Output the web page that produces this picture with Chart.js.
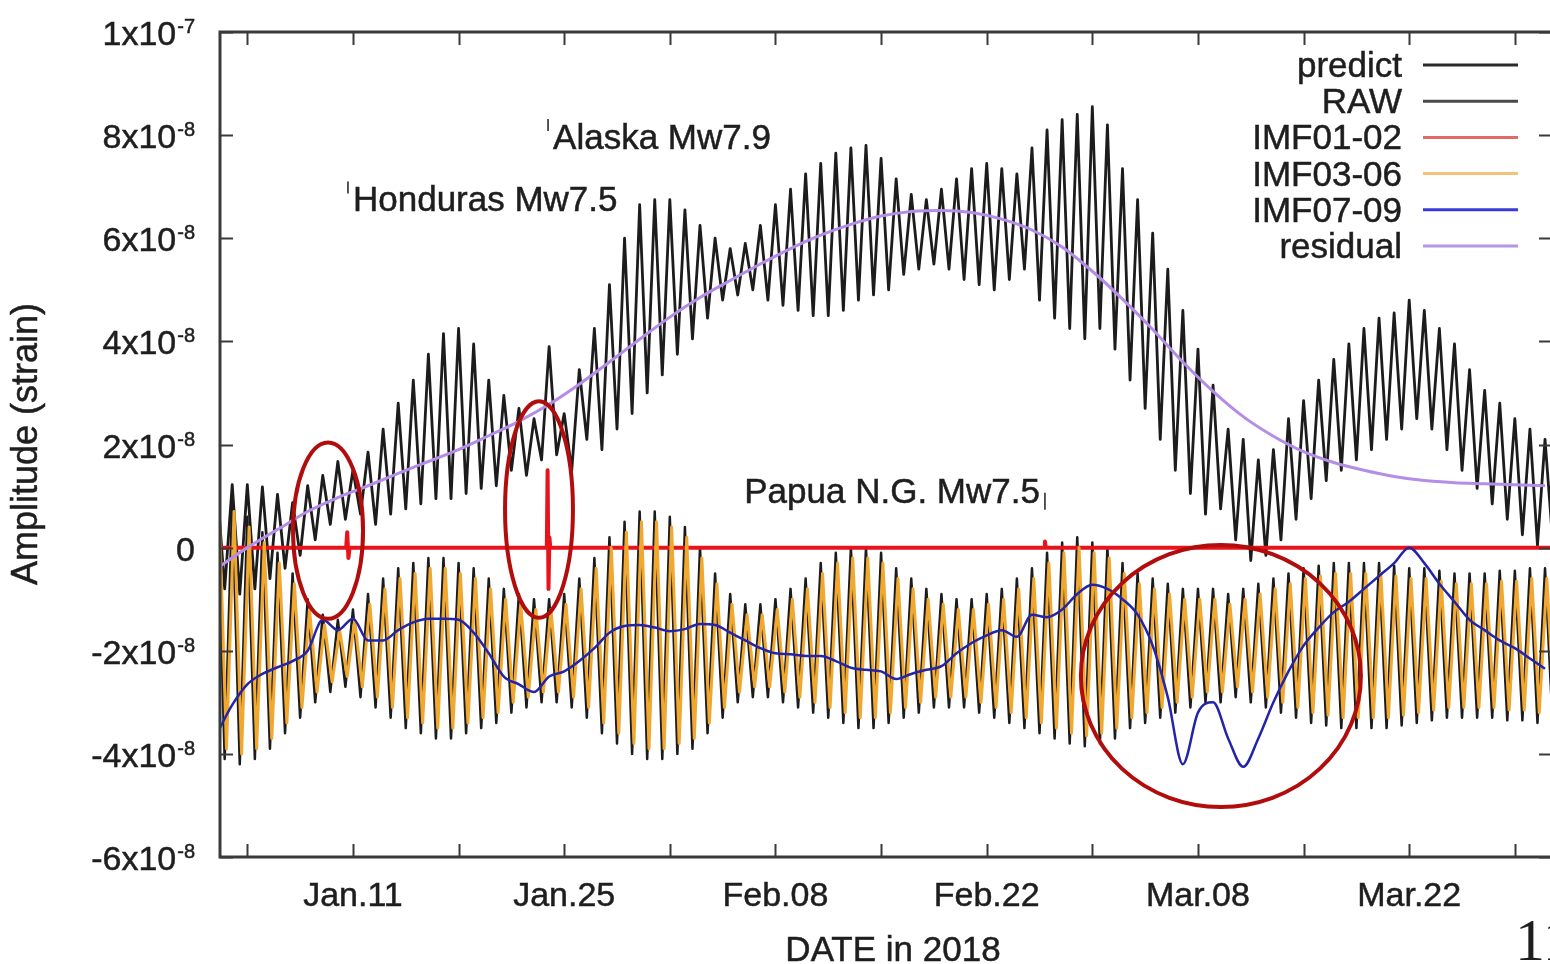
<!DOCTYPE html>
<html>
<head>
<meta charset="utf-8">
<script src="https://cdn.jsdelivr.net/npm/chart.js@4.4.1/dist/chart.umd.min.js"></script>
<style>
  html, body { margin: 0; padding: 0; background: #fff; overflow: hidden; }
  #wrap { position: relative; width: 1550px; height: 964px; }
</style>
</head>
<body>
<div id="wrap"><canvas id="strainChart" width="1550" height="964"></canvas></div>
<script>
// Valores en unidades de 1e-8 (strain), tiempo en dia del año 2018
const firstDay = 2;

// RAW: maximo diario (dia d) y minimo (dia d + 0.5), desde el dia 2 hasta el 90
const rawPeaks = [
  1.18, 1.22, 1.22, 1.18, 1.03, 0.87, 1.2, 1.4, 1.67, 1.5,
  1.85, 2.3, 2.8, 3.25, 3.75, 4.15, 4.25, 3.95, 3.25, 2.95,
  2.7, 2.5, 3.9, 2.6, 3.45, 4.25, 5.1, 6.0, 6.65, 6.75,
  6.75, 6.55, 6.25, 6.0, 5.8, 5.9, 6.25, 6.65, 6.95, 7.25,
  7.45, 7.65, 7.75, 7.8, 7.55, 7.15, 6.85, 6.75, 6.95, 7.15,
  7.35, 7.45, 7.35, 7.25, 7.75, 8.1, 8.3, 8.4, 8.55, 8.2,
  7.35, 6.75, 6.1, 5.4, 4.6, 3.85, 3.15, 2.3, 2.1, 1.7,
  1.9, 2.5, 2.85, 3.25, 3.65, 3.95, 4.25, 4.45, 4.55, 4.8,
  4.6, 4.25, 3.95, 3.45, 3.05, 2.8, 2.5, 2.3, 2.1
];
const rawTroughs = [
  -0.8, -0.9, -0.8, -0.6, -0.4, -0.15, 0.15, 0.45, 0.55, 0.65,
  0.45, 0.65, 0.75, 0.85, 0.95, 0.95, 1.05, 1.15, 1.2, 1.5,
  1.4, 1.7, 1.8, 1.5, 2.1, 1.9, 2.3, 2.6, 3.0, 3.35,
  3.75, 4.05, 4.45, 4.8, 4.9, 5.0, 4.8, 4.7, 4.6, 4.5,
  4.5, 4.6, 4.8, 4.9, 5.0, 5.3, 5.4, 5.5, 5.4, 5.2,
  5.1, 5.0, 5.2, 5.4, 4.8, 4.45, 4.25, 4.05, 4.25, 3.85,
  3.25, 2.7, 2.1, 1.5, 1.05, 0.65, 0.75, 0.15, -0.25, -0.15,
  0.15, 0.55, 0.95, 1.3, 1.5, 1.7, 1.9, 2.1, 2.3, 2.5,
  2.3, 1.9, 1.5, 1.15, 0.85, 0.55, 0.25, 0.05, 0.15
];

// predict (marea teorica)
const predictTops = [
  1.1, 0.9, 0.6, 0.3, -0.1, -0.5, -1.0, -1.3, -1.4, -1.2,
  -0.9, -0.6, -0.4, -0.3, -0.2, -0.2, -0.3, -0.4, -0.6, -0.8,
  -0.9, -1.0, -1.0, -0.9, -0.6, -0.2, 0.2, 0.5, 0.7, 0.7,
  0.6, 0.4, 0.0, -0.5, -0.9, -1.1, -1.1, -1.0, -0.8, -0.6,
  -0.3, -0.1, 0.0, 0.0, -0.1, -0.4, -0.6, -0.8, -0.9, -1.0,
  -1.0, -0.9, -0.8, -0.6, -0.4, -0.1, 0.1, 0.2, 0.1, 0.0,
  -0.3, -0.5, -0.6, -0.7, -0.8, -0.8, -0.8, -0.9, -0.8, -0.7,
  -0.6, -0.5, -0.4, -0.35, -0.3, -0.3, -0.3, -0.3, -0.35, -0.4,
  -0.4, -0.45, -0.5, -0.5, -0.5, -0.45, -0.45, -0.4, -0.4
];
const predictBottoms = [
  -4.1, -4.2, -4.1, -3.9, -3.6, -3.3, -3.0, -2.8, -2.7, -2.9,
  -3.1, -3.3, -3.5, -3.6, -3.7, -3.7, -3.6, -3.5, -3.4, -3.2,
  -3.1, -3.0, -3.0, -3.1, -3.3, -3.6, -3.8, -4.0, -4.1, -4.1,
  -4.0, -3.9, -3.6, -3.3, -3.0, -2.9, -2.9, -3.0, -3.1, -3.2,
  -3.3, -3.4, -3.5, -3.5, -3.4, -3.3, -3.2, -3.1, -3.1, -3.1,
  -3.2, -3.3, -3.4, -3.5, -3.6, -3.7, -3.8, -3.85, -3.8, -3.7,
  -3.5, -3.4, -3.3, -3.2, -3.1, -3.0, -3.0, -2.9, -3.0, -3.1,
  -3.2, -3.3, -3.4, -3.45, -3.5, -3.5, -3.5, -3.5, -3.45, -3.4,
  -3.35, -3.3, -3.3, -3.3, -3.3, -3.35, -3.35, -3.4, -3.4
];

// IMF03-06
const imf36Tops = [
  0.9, 0.7, 0.4, 0.1, -0.3, -0.7, -1.2, -1.5, -1.6, -1.4,
  -1.1, -0.8, -0.6, -0.5, -0.4, -0.4, -0.5, -0.6, -0.8, -1.0,
  -1.1, -1.2, -1.2, -1.1, -0.8, -0.4, 0.0, 0.3, 0.5, 0.5,
  0.4, 0.2, -0.2, -0.7, -1.1, -1.3, -1.3, -1.2, -1.0, -0.8,
  -0.5, -0.3, -0.2, -0.2, -0.3, -0.6, -0.8, -1.0, -1.1, -1.2,
  -1.2, -1.1, -1.0, -0.8, -0.6, -0.3, -0.1, 0.0, -0.1, -0.2,
  -0.5, -0.7, -0.8, -0.9, -1.0, -1.0, -1.0, -1.1, -1.0, -0.9,
  -0.8, -0.7, -0.6, -0.55, -0.5, -0.5, -0.5, -0.5, -0.55, -0.6,
  -0.6, -0.65, -0.7, -0.7, -0.7, -0.65, -0.65, -0.6, -0.6
];
const imf36Bottoms = [
  -3.9, -4.0, -3.9, -3.7, -3.4, -3.1, -2.8, -2.6, -2.5, -2.7,
  -2.9, -3.1, -3.3, -3.4, -3.5, -3.5, -3.4, -3.3, -3.2, -3.0,
  -2.9, -2.8, -2.8, -2.9, -3.1, -3.4, -3.6, -3.8, -3.9, -3.9,
  -3.8, -3.7, -3.4, -3.1, -2.8, -2.7, -2.7, -2.8, -2.9, -3.0,
  -3.1, -3.2, -3.3, -3.3, -3.2, -3.1, -3.0, -2.9, -2.9, -2.9,
  -3.0, -3.1, -3.2, -3.3, -3.4, -3.5, -3.6, -3.65, -3.6, -3.5,
  -3.3, -3.2, -3.1, -3.0, -2.9, -2.8, -2.8, -2.7, -2.8, -2.9,
  -3.0, -3.1, -3.2, -3.25, -3.3, -3.3, -3.3, -3.3, -3.25, -3.2,
  -3.15, -3.1, -3.1, -3.1, -3.1, -3.15, -3.15, -3.2, -3.2
];
const imf36Shift = 0.12;

// IMF07-09, un valor por dia
const imf79Values = [
  -3.6, -3.05, -2.65, -2.45, -2.32, -2.2, -2.0, -1.4, -1.6, -1.38,
  -1.8, -1.8, -1.6, -1.45, -1.38, -1.38, -1.4, -1.65, -2.05, -2.5,
  -2.65, -2.8, -2.5, -2.4, -2.2, -1.95, -1.65, -1.52, -1.5, -1.55,
  -1.62, -1.58, -1.48, -1.5, -1.65, -1.8, -1.95, -2.05, -2.07, -2.1,
  -2.1, -2.2, -2.33, -2.37, -2.4, -2.55, -2.45, -2.37, -2.3, -2.05,
  -1.85, -1.7, -1.6, -1.73, -1.3, -1.35, -1.2, -0.9, -0.72, -0.8,
  -1.0, -1.3, -1.9, -2.9, -4.2, -3.2, -3.0, -3.7, -4.25, -3.7,
  -3.0, -2.4, -1.9, -1.55, -1.25, -1.05, -0.8, -0.55, -0.3, 0.0,
  -0.3, -0.7, -1.05, -1.4, -1.6, -1.8, -1.95, -2.15, -2.35
];

// residual, cada 2 dias
const residualValues = [
  -0.4, 0.0, 0.35, 0.7, 0.97, 1.2, 1.44, 1.67, 1.9, 2.17,
  2.45, 2.78, 3.17, 3.6, 4.04, 4.47, 4.85, 5.18, 5.5, 5.8,
  6.06, 6.27, 6.43, 6.52, 6.54, 6.5, 6.37, 6.16, 5.83, 5.36,
  4.82, 4.23, 3.6, 3.03, 2.54, 2.16, 1.86, 1.65, 1.5, 1.38,
  1.3, 1.26, 1.24, 1.22, 1.2
];

// IMF01-02: casi cero, con picos en los sismos
const imf12Days = [2, 10.55, 10.62, 10.7, 10.78, 23.85, 23.9, 23.96, 24.02, 24.08, 56.8, 56.86, 56.92, 90.5];
const imf12Values = [0, 0, 0.3, -0.2, 0, 0, 1.5, -0.8, 0.2, 0, 0, 0.12, 0, 0];

// Ejes
const xMin = 2.19, xMax = 90.33;
const yMin = -6, yMax = 10;
const xTickDays = [4, 11, 18, 25, 32, 39, 46, 53, 60, 67, 74, 81, 88];
const xLabelDays = [11, 25, 39, 53, 67, 81];
const xLabels = ['Jan.11', 'Jan.25', 'Feb.08', 'Feb.22', 'Mar.08', 'Mar.22'];
const yTickValues = [10, 8, 6, 4, 2, 0, -2, -4, -6];
const yTickBases = ['1x10', '8x10', '6x10', '4x10', '2x10', '0', '-2x10', '-4x10', '-6x10'];
const yTickExps = ['-7', '-8', '-8', '-8', '-8', '', '-8', '-8', '-8'];

// Leyenda
const legendNames = ['predict', 'RAW', 'IMF01-02', 'IMF03-06', 'IMF07-09', 'residual'];
const legendColors = ['#2a2a2a', '#4a4a4a', '#e46a6a', '#f3c27a', '#3a3ad8', '#b496e6'];

// Sismos
const quakeNames = ['Honduras Mw7.5', 'Alaska Mw7.9', 'Papua N.G. Mw7.5'];
const quakeDays = [10.67, 23.93, 56.86];
const quakeTextValues = [6.52, 7.73, 0.87];

// Elipses rojas (centro y radios en unidades de datos)
const ellipseDays = [9.35, 23.33, 68.52];
const ellipseValues = [0.33, 0.74, -2.49];
const ellipseDayRadius = [2.32, 2.25, 9.28];
const ellipseValueRadius = [1.71, 2.1, 2.54];

const colors = {
    black: '#1c1c1c',
    red: '#e8141c',
    orange: '#f0a830',
    blue: '#2424a8',
    purple: '#b48de6',
    frame: '#3a3a3a',
    text: '#1e1e1e',
    ellipse: '#b20d0d'
};

const FONT = '"Liberation Sans", Arial, Helvetica, sans-serif';

function tideSeries(highs, lows, shift) {
    const pts = [];
    highs.forEach((h, i) => {
        pts.push({ x: firstDay + i + shift, y: h });
        pts.push({ x: firstDay + i + 0.5 + shift, y: lows[i] });
    });
    return pts;
}

function dailySeries(values, step) {
    return values.map((v, i) => ({ x: firstDay + i * step, y: v }));
}

const imf12Series = imf12Days.map((d, i) => ({ x: d, y: imf12Values[i] }));

// texto algo mas grueso, como en la figura original
function heavyText(ctx, text, px, py) {
    ctx.fillText(text, px, py);
    ctx.strokeText(text, px, py);
}

const decorations = {
    id: 'decorations',
    afterDatasetsDraw(chart) {
        const { ctx, chartArea: area, scales: { x, y } } = chart;
        ctx.save();

        // elipses
        ctx.strokeStyle = colors.ellipse;
        ctx.lineWidth = 4;
        ellipseDays.forEach((d, i) => {
            const cx = x.getPixelForValue(d);
            const cy = y.getPixelForValue(ellipseValues[i]);
            const rx = Math.abs(x.getPixelForValue(d + ellipseDayRadius[i]) - cx);
            const ry = Math.abs(y.getPixelForValue(ellipseValues[i] + ellipseValueRadius[i]) - cy);
            ctx.beginPath();
            ctx.ellipse(cx, cy, rx, ry, 0, 0, Math.PI * 2);
            ctx.stroke();
        });

        // marco
        ctx.strokeStyle = colors.frame;
        ctx.lineWidth = 3;
        ctx.beginPath();
        ctx.moveTo(area.right + 2, area.top);
        ctx.lineTo(area.left, area.top);
        ctx.lineTo(area.left, area.bottom);
        ctx.lineTo(area.right + 2, area.bottom);
        ctx.stroke();

        // marcas hacia dentro
        ctx.lineWidth = 2;
        ctx.beginPath();
        yTickValues.forEach(v => {
            const py = Math.round(y.getPixelForValue(v)) + 0.5;
            ctx.moveTo(area.left, py); ctx.lineTo(area.left + 13, py);
            ctx.moveTo(area.right, py); ctx.lineTo(area.right - 11, py);
        });
        xTickDays.forEach(d => {
            const px = Math.round(x.getPixelForValue(d)) + 0.5;
            ctx.moveTo(px, area.bottom); ctx.lineTo(px, area.bottom - 13);
            ctx.moveTo(px, area.top); ctx.lineTo(px, area.top + 13);
        });
        ctx.stroke();

        ctx.fillStyle = colors.text;
        ctx.strokeStyle = colors.text;
        ctx.lineWidth = 0.5;

        // etiquetas eje y con exponente
        ctx.textBaseline = 'alphabetic';
        yTickValues.forEach((v, i) => {
            const py = y.getPixelForValue(v);
            const right = 195;
            ctx.font = '20px ' + FONT;
            const expW = yTickExps[i] ? ctx.measureText(yTickExps[i]).width + 1 : 0;
            if (yTickExps[i]) {
                ctx.textAlign = 'left';
                heavyText(ctx, yTickExps[i], right - expW + 1, py + 1);
            }
            ctx.font = '34px ' + FONT;
            ctx.textAlign = 'right';
            heavyText(ctx, yTickBases[i], right - expW, py + 13);
        });

        // etiquetas eje x
        ctx.font = '34px ' + FONT;
        ctx.textAlign = 'center';
        xLabelDays.forEach((d, i) => {
            heavyText(ctx, xLabels[i], x.getPixelForValue(d), 906);
        });

        // titulos
        ctx.font = '35px ' + FONT;
        heavyText(ctx, 'DATE in 2018', 893, 961);
        ctx.save();
        ctx.translate(27, 444);
        ctx.rotate(-Math.PI / 2);
        ctx.textBaseline = 'middle';
        ctx.font = '36px ' + FONT;
        heavyText(ctx, 'Amplitude (strain)', 0, 0);
        ctx.restore();

        // leyenda
        ctx.font = '35px ' + FONT;
        ctx.textAlign = 'right';
        legendNames.forEach((name, i) => {
            const ly = 65 + i * 36.2;
            ctx.fillStyle = colors.text;
            ctx.strokeStyle = colors.text;
            ctx.lineWidth = 0.5;
            heavyText(ctx, name, 1402, ly + 12);
            ctx.strokeStyle = legendColors[i];
            ctx.lineWidth = 3;
            ctx.beginPath();
            ctx.moveTo(1423, ly);
            ctx.lineTo(1518, ly);
            ctx.stroke();
        });

        // sismos
        ctx.fillStyle = colors.text;
        ctx.strokeStyle = colors.text;
        quakeNames.forEach((name, i) => {
            const px = x.getPixelForValue(quakeDays[i]);
            const base = y.getPixelForValue(quakeTextValues[i]);
            ctx.lineWidth = 1.5;
            ctx.beginPath();
            if (i < 2) {
                ctx.moveTo(px, base - 30); ctx.lineTo(px, base - 18);
                ctx.stroke();
                ctx.textAlign = 'left';
                ctx.lineWidth = 0.5;
                heavyText(ctx, name, px + 5, base);
            } else {
                ctx.moveTo(px, base - 10); ctx.lineTo(px, base + 7);
                ctx.stroke();
                ctx.textAlign = 'right';
                ctx.lineWidth = 0.5;
                heavyText(ctx, name, px - 5, base);
            }
        });

        // numero de pagina
        ctx.font = '60px "Liberation Serif", "Times New Roman", serif';
        ctx.textAlign = 'left';
        ctx.fillText('11', 1515, 960);

        ctx.restore();
    }
};

const lineBase = {
    pointRadius: 0,
    borderJoinStyle: 'round',
    fill: false,
    clip: 0
};

const ctx = document.getElementById('strainChart').getContext('2d');
const strainChart = new Chart(ctx, {
    type: 'line',
    data: {
        datasets: [
            { ...lineBase, label: 'predict', data: tideSeries(predictTops, predictBottoms, 0),
              borderColor: colors.black, borderWidth: 2.5, tension: 0, order: 6 },
            { ...lineBase, label: 'RAW', data: tideSeries(rawPeaks, rawTroughs, 0),
              borderColor: colors.black, borderWidth: 2.8, tension: 0, order: 5 },
            { ...lineBase, label: 'IMF01-02', data: imf12Series,
              borderColor: colors.red, borderWidth: 4, tension: 0, order: 4 },
            { ...lineBase, label: 'IMF03-06', data: tideSeries(imf36Tops, imf36Bottoms, imf36Shift),
              borderColor: colors.orange, borderWidth: 3, tension: 0, order: 3 },
            { ...lineBase, label: 'IMF07-09', data: dailySeries(imf79Values, 1),
              borderColor: colors.blue, borderWidth: 2.5, cubicInterpolationMode: 'monotone', order: 2 },
            { ...lineBase, label: 'residual', data: dailySeries(residualValues, 2),
              borderColor: colors.purple, borderWidth: 3, cubicInterpolationMode: 'monotone', order: 1 }
        ]
    },
    options: {
        responsive: false,
        animation: false,
        events: [],
        layout: { padding: { left: 220, top: 32, right: 0, bottom: 107 } },
        plugins: {
            legend: { display: false },
            tooltip: { enabled: false }
        },
        scales: {
            x: { type: 'linear', min: xMin, max: xMax, display: false },
            y: { type: 'linear', min: yMin, max: yMax, display: false }
        }
    },
    plugins: [decorations]
});
</script>
</body>
</html>
